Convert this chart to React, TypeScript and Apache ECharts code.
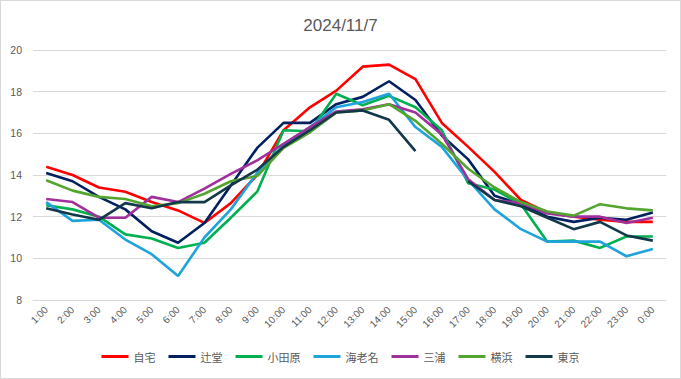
import React, { useEffect, useRef } from "react";
import * as echarts from "echarts";

const categories = ["1:00","2:00","3:00","4:00","5:00","6:00","7:00","8:00","9:00","10:00","11:00","12:00","13:00","14:00","15:00","16:00","17:00","18:00","19:00","20:00","21:00","22:00","23:00","0:00"];

const jitaku = [14.4, 14.0, 13.4, 13.2, 12.7, 12.3, 11.7, 12.65, 14.0, 16.15, 17.25, 18.05, 19.2, 19.3, 18.6, 16.5, 15.35, 14.15, 12.8, 12.2, 12.0, 11.85, 11.75, 11.75];
const tsujido = [14.1, 13.7, 12.95, 12.35, 11.3, 10.75, 11.7, 13.5, 15.3, 16.5, 16.5, 17.4, 17.75, 18.5, 17.6, 15.9, 14.75, 13.0, 12.6, 12.0, 11.75, 11.95, 11.85, 12.2];
const odawara = [12.55, 12.35, 12.0, 11.15, 10.95, 10.5, 10.75, 11.95, 13.2, 16.15, 16.1, 17.9, 17.35, 17.8, 17.25, 16.15, 13.6, 13.3, 12.6, 10.8, 10.85, 10.5, 11.05, 11.05];
const ebina = [12.7, 11.8, 11.85, 10.9, 10.2, 9.15, 11.0, 12.35, 14.1, 15.45, 16.3, 17.25, 17.5, 17.9, 16.3, 15.35, 13.75, 12.35, 11.4, 10.8, 10.8, 10.8, 10.1, 10.45];
const miura = [12.85, 12.7, 11.95, 11.95, 12.95, 12.7, 13.35, 14.05, 14.7, 15.5, 16.3, 17.05, 17.15, 17.4, 17.0, 15.95, 13.8, 12.8, 12.65, 12.15, 12.0, 12.0, 11.7, 11.95];
const yokohama = [13.75, 13.25, 12.95, 12.85, 12.5, 12.65, 13.1, 13.7, 13.95, 15.3, 16.05, 17.0, 17.1, 17.4, 16.6, 15.5, 14.3, 13.4, 12.7, 12.25, 12.05, 12.6, 12.4, 12.3];
const tokyo = [12.4, 12.1, 11.85, 12.65, 12.4, 12.7, 12.7, 13.5, 14.25, 15.35, 16.15, 17.0, 17.1, 16.65, 15.15, null, 13.7, 12.8, 12.5, 11.95, 11.4, 11.75, 11.1, 10.85];

const seriesNames = ["自宅", "辻堂", "小田原", "海老名", "三浦", "横浜", "東京"];
const seriesData = [jitaku, tsujido, odawara, ebina, miura, yokohama, tokyo];
const seriesColors = ["#ff0000", "#002060", "#00b050", "#1ea3da", "#a0309b", "#53a52f", "#12384a"];

const title = "2024/11/7";

export default function App() {
  const ref = useRef<HTMLDivElement>(null);
  useEffect(() => {
    document.body.style.margin = "0";
    const chart = echarts.init(ref.current!, null, { renderer: "svg" });
    chart.setOption({
      animation: false,
      backgroundColor: "#ffffff",
      title: {
        text: title,
        left: "center",
        top: 11,
        textStyle: { fontFamily: "Liberation Sans", fontSize: 17, fontWeight: "normal", color: "#595959" },
      },
      grid: { left: 32, right: 14, top: 49, bottom: 78, containLabel: false },
      legend: {
        bottom: 11,
        left: "center",
        icon: "rect",
        itemWidth: 27,
        itemHeight: 3,
        itemGap: 13,
        textStyle: { fontFamily: "Noto Sans CJK JP", fontSize: 11, color: "#595959" },
        data: seriesNames,
      },
      xAxis: {
        type: "category",
        data: categories,
        boundaryGap: true,
        axisLine: { show: true, lineStyle: { color: "#d9d9d9" } },
        axisTick: { show: false },
        axisLabel: { rotate: 45, fontFamily: "Liberation Sans", fontSize: 10, color: "#595959", margin: 8, interval: 0 },
      },
      yAxis: {
        type: "value",
        min: 8,
        max: 20,
        interval: 2,
        axisLine: { show: false },
        axisTick: { show: false },
        axisLabel: { fontFamily: "Liberation Sans", fontSize: 10.5, color: "#595959", margin: 11 },
        splitLine: { lineStyle: { color: "#d9d9d9", width: 1 } },
      },
      series: seriesNames.map((name, i) => ({
        name,
        type: "line",
        data: seriesData[i],
        symbol: "none",
        connectNulls: false,
        lineStyle: { color: seriesColors[i], width: 2.6 },
        itemStyle: { color: seriesColors[i] },
      })),
    });
    return () => chart.dispose();
  }, []);
  return (
    <div
      ref={ref}
      style={{ position: "fixed", left: 0, top: 0, width: 681, height: 379, boxSizing: "border-box", border: "1px solid #d9d9d9" }}
    />
  );
}
